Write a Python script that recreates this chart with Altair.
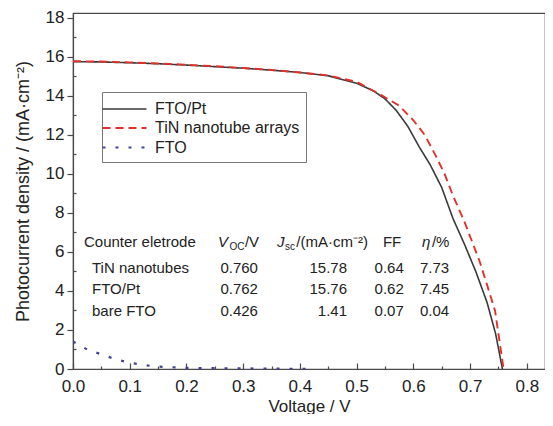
import altair as alt
import pandas as pd

# ---------------- data ----------------
series_names = ["FTO/Pt", "TiN nanotube arrays", "FTO"]

pt_v = [0.0, 0.05, 0.10, 0.15, 0.20, 0.25, 0.30, 0.35, 0.40, 0.45, 0.50, 0.53, 0.55,
        0.57, 0.59, 0.61, 0.63, 0.65, 0.67, 0.69, 0.71, 0.73, 0.745, 0.757]
pt_j = [15.76, 15.74, 15.70, 15.65, 15.58, 15.50, 15.42, 15.32, 15.20, 15.03, 14.65, 14.25, 13.85,
        13.25, 12.45, 11.40, 10.45, 9.30, 7.70, 6.40, 5.00, 3.40, 1.80, 0.0]

tin_v = [0.0, 0.05, 0.10, 0.15, 0.20, 0.25, 0.30, 0.35, 0.40, 0.45, 0.50, 0.54, 0.575,
         0.60, 0.62, 0.64, 0.655, 0.67, 0.69, 0.717, 0.73, 0.744, 0.759]
tin_j = [15.78, 15.76, 15.72, 15.66, 15.60, 15.52, 15.43, 15.33, 15.20, 15.05, 14.72, 14.10, 13.50,
         12.75, 12.00, 10.90, 10.00, 8.87, 7.55, 5.50, 4.30, 2.98, 0.0]

fto_v = [0.0, 0.025, 0.05, 0.075, 0.10, 0.125, 0.15, 0.20, 0.25, 0.30, 0.35, 0.40, 0.426]
fto_j = [1.41, 1.00, 0.75, 0.50, 0.32, 0.20, 0.12, 0.06, 0.04, 0.03, 0.02, 0.01, 0.0]

# table values
table_rows = ["TiN nanotubes", "FTO/Pt", "bare FTO"]
table_voc = ["0.760", "0.762", "0.426"]
table_jsc = ["15.78", "15.76", "1.41"]
table_ff = ["0.64", "0.62", "0.07"]
table_eta = ["7.73", "7.45", "0.04"]

x_ticks = [0.0, 0.1, 0.2, 0.3, 0.4, 0.5, 0.6, 0.7, 0.8]
x_minor = [0.05, 0.15, 0.25, 0.35, 0.45, 0.55, 0.65, 0.75]
y_ticks = [0, 2, 4, 6, 8, 10, 12, 14, 16, 18]
y_minor = [1, 3, 5, 7, 9, 11, 13, 15, 17]

# ---------------- tables ----------------
rows = []
for name, vs, js in [(series_names[0], pt_v, pt_j), (series_names[1], tin_v, tin_j),
                     (series_names[2], fto_v, fto_j)]:
    for i, (v, j) in enumerate(zip(vs, js)):
        rows.append({"series": name, "V": v, "J": j, "order": i})
df = pd.DataFrame(rows)

# table layout (data units)
hdr_y = 6.5
row_y = [5.19, 4.08, 2.98]
tbl = []
tbl.append({"V": 0.0194, "J": hdr_y, "t": "Counter eletrode", "kind": "left"})
for k in range(3):
    tbl.append({"V": 0.0335, "J": row_y[k], "t": table_rows[k], "kind": "left"})
    tbl.append({"V": 0.326, "J": row_y[k], "t": table_voc[k], "kind": "right"})
    tbl.append({"V": 0.483, "J": row_y[k], "t": table_jsc[k], "kind": "right"})
    tbl.append({"V": 0.583, "J": row_y[k], "t": table_ff[k], "kind": "right"})
    tbl.append({"V": 0.663, "J": row_y[k], "t": table_eta[k], "kind": "right"})
tbl.append({"V": 0.3031, "J": hdr_y, "t": "/V", "kind": "left"})
tbl.append({"V": 0.3935, "J": hdr_y, "t": "/(mA·cm⁻²)", "kind": "left"})
tbl.append({"V": 0.5463, "J": hdr_y, "t": "FF", "kind": "left"})
tbl.append({"V": 0.6327, "J": hdr_y, "t": "/%", "kind": "left"})
tdf = pd.DataFrame(tbl)
ital = pd.DataFrame([{"V": 0.2555, "J": hdr_y, "t": "V"},
                     {"V": 0.3595, "J": hdr_y, "t": "J"},
                     {"V": 0.6151, "J": hdr_y, "t": "η"}])
subs = pd.DataFrame([{"V": 0.2758, "J": hdr_y, "t": "OC"},
                     {"V": 0.3736, "J": hdr_y, "t": "sc"}])

FONT = "Liberation Sans"
AX = "#4a4a4a"
xs = alt.Scale(domain=[0, 0.832], nice=False, zero=False)
ys = alt.Scale(domain=[0, 18.25], nice=False)

color_scale = alt.Scale(domain=series_names, range=["#3a3a3a", "#e2302b", "#42429a"])
dash_scale = alt.Scale(domain=series_names, range=[[1, 0], [8, 5], [3, 10]])
width_scale = alt.Scale(domain=series_names, range=[1.6, 2.2, 3.0])

NB = "\u00a0" * 8
legend = alt.Legend(title=None, orient="none", legendX=29, legendY=79,
                    symbolType="M-2.2,0H2.2", symbolSize=400, symbolOffset=5,
                    labelFontSize=16, labelFont=FONT,
                    labelColor="#222", strokeColor="#777", fillColor="white", padding=6,
                    rowPadding=0, labelOffset=19,
                    labelExpr="datum.label == 'TiN nanotube arrays' ? datum.label + '" + NB + "' : datum.label")

lines = alt.Chart(df).mark_line(strokeCap="butt", clip=True).encode(
    x=alt.X("V:Q", scale=xs, axis=alt.Axis(orient="bottom", values=x_ticks, format=".1f",
                                          ticks=False, labelPadding=9, labelFontSize=17,
                                          labelFlush=False,
                                          title="Voltage / V", titleFontSize=17,
                                          titleFontWeight="normal", titlePadding=4)),
    y=alt.Y("J:Q", scale=ys, axis=alt.Axis(orient="left", values=y_ticks, format="d",
                                          tickSize=6, labelPadding=3, labelFontSize=17,
                                          title="Photocurrent density / (mA·cm⁻²)",
                                          titleFontSize=18, titleFontWeight="normal",
                                          titlePadding=13)),
    color=alt.Color("series:N", scale=color_scale, legend=legend),
    strokeDash=alt.StrokeDash("series:N", scale=dash_scale, legend=legend),
    strokeWidth=alt.StrokeWidth("series:N", scale=width_scale, legend=legend),
    order="order:Q",
)

def tick_layer(orient, vals, size):
    if orient == "bottom":
        return alt.Chart(df).mark_point(opacity=0).encode(
            x=alt.X("V:Q", scale=xs, axis=alt.Axis(orient="bottom", values=vals, labels=False,
                                                  domain=False, tickSize=size, offset=-size,
                                                  title=None)),
            y=alt.Y("J:Q", scale=ys, axis=None))
    return alt.Chart(df).mark_point(opacity=0).encode(
        x=alt.X("V:Q", scale=xs, axis=None),
        y=alt.Y("J:Q", scale=ys, axis=alt.Axis(orient="left", values=vals, labels=False,
                                              domain=False, tickSize=size, offset=-size,
                                              title=None)))

xmaj = tick_layer("bottom", x_ticks, 6)
xmin = tick_layer("bottom", x_minor, 3)
ymin = tick_layer("left", y_minor, 3)

enc = dict(x=alt.X("V:Q", scale=xs, axis=None), y=alt.Y("J:Q", scale=ys, axis=None), text="t:N")
t_left = alt.Chart(tdf[tdf.kind == "left"]).mark_text(
    align="left", baseline="middle", font=FONT, fontSize=15, color="#222").encode(**enc)
t_right = alt.Chart(tdf[tdf.kind == "right"]).mark_text(
    align="right", baseline="middle", font=FONT, fontSize=15, color="#222").encode(**enc)
t_ital = alt.Chart(ital).mark_text(
    align="left", baseline="middle", font=FONT, fontSize=15, fontStyle="italic",
    color="#222").encode(**enc)
t_sub = alt.Chart(subs).mark_text(
    align="left", baseline="middle", font=FONT, fontSize=10, dy=5, color="#222").encode(**enc)

chart = alt.layer(lines, xmaj, xmin, ymin, t_left, t_right, t_ital, t_sub).resolve_axis(
    x="independent", y="independent"
).properties(
    width=472, height=356,
    autosize=alt.AutoSizeParams(type="none"),
    padding={"left": 65, "top": 5, "right": 0, "bottom": 45},
).configure_view(stroke=AX, strokeWidth=1.2).configure_axis(
    domainColor=AX, tickColor=AX, labelFont=FONT, titleFont=FONT, labelColor="#222",
    titleColor="#222", grid=False, domainWidth=1.2, tickWidth=1.2)

chart.save("out.html", embed_options={"renderer": "svg", "actions": False})
